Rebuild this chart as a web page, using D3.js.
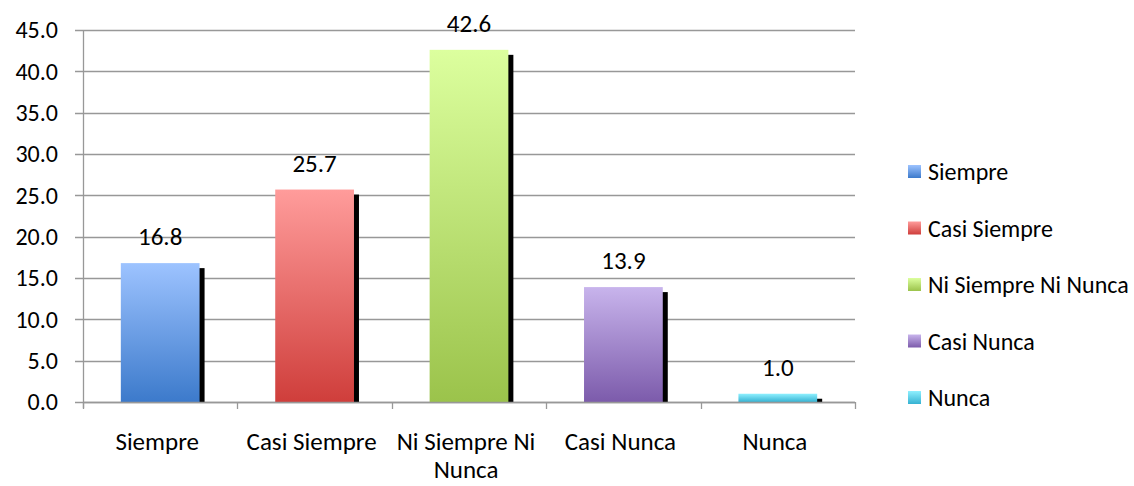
<!DOCTYPE html>
<html>
<head>
<meta charset="utf-8">
<script src="https://cdn.jsdelivr.net/npm/d3@7"></script>
<style>
  body { margin: 0; background: #fff; }
  text { font-family: Calibri, Carlito, Lato, sans-serif; fill: #000; }
</style>
</head>
<body>
<svg id="chart" width="1134" height="486"></svg>
<script>
// Survey answer distribution (%)
const categories = ["Siempre", "Casi Siempre", "Ni Siempre Ni Nunca", "Casi Nunca", "Nunca"];
const values = [16.8, 25.7, 42.6, 13.9, 1.0];
const yTicks = [0, 5, 10, 15, 20, 25, 30, 35, 40, 45];
const colorTop = ["#9dc3ff", "#ff9c9b", "#dcff9e", "#c8b4ec", "#8ff0ff"];
const colorBottom = ["#3c7acb", "#cf3e3b", "#9bc34b", "#7c5bab", "#36b2d2"];

const svg = d3.select("#chart");
const plot = { left: 83, right: 855, top: 30, bottom: 402 };

const y = d3.scaleLinear().domain([0, 45]).range([plot.bottom, plot.top]);
const xCat = d3.scaleBand().domain(categories).range([plot.left, plot.right]).padding(0);
const xBar = d3.scaleBand().domain(categories).range([plot.left, plot.right])
  .paddingInner(0.49).paddingOuter(0.245);
const color = d3.scaleOrdinal().domain(categories).range(colorBottom);

// vertical gradients for bars and legend keys
const defs = svg.append("defs");
categories.forEach((c, i) => {
  const g = defs.append("linearGradient").attr("id", "grad" + i)
    .attr("x1", 0).attr("y1", 0).attr("x2", 0).attr("y2", 1);
  g.append("stop").attr("offset", "0%").attr("stop-color", colorTop[i]);
  g.append("stop").attr("offset", "100%").attr("stop-color", color(c));
});

// horizontal gridlines
svg.append("g").selectAll("line").data(yTicks).join("line")
  .attr("x1", plot.left - 8).attr("x2", plot.right)
  .attr("y1", d => Math.round(y(d)) + 0.5).attr("y2", d => Math.round(y(d)) + 0.5)
  .attr("stroke", "#989898").attr("stroke-width", 1.3);

// y axis
const yAxis = svg.append("g").attr("transform", `translate(${plot.left},0)`)
  .call(d3.axisLeft(y).tickValues(yTicks).tickFormat(d3.format(".1f")).tickSize(8).tickPadding(17));
yAxis.select(".domain").remove();
yAxis.selectAll(".tick line").remove();
yAxis.selectAll("text").style("font-size", "24px");
svg.append("line").attr("x1", plot.left + 0.5).attr("x2", plot.left + 0.5)
  .attr("y1", plot.top).attr("y2", plot.bottom + 6)
  .attr("stroke", "#989898").attr("stroke-width", 1.3);

// shadows behind bars
svg.append("g").selectAll("rect").data(categories).join("rect")
  .attr("x", d => xBar(d) + 5)
  .attr("y", (d, i) => Math.min(y(values[i]) + 5, plot.bottom - 2))
  .attr("width", xBar.bandwidth())
  .attr("height", (d, i) => plot.bottom - Math.min(y(values[i]) + 5, plot.bottom - 2))
  .attr("fill", "#000");

// bars
svg.append("g").selectAll("rect").data(categories).join("rect")
  .attr("x", d => xBar(d))
  .attr("y", (d, i) => y(values[i]))
  .attr("width", xBar.bandwidth())
  .attr("height", (d, i) => plot.bottom - y(values[i]))
  .attr("fill", (d, i) => `url(#grad${i})`);

// value labels
svg.append("g").selectAll("text").data(categories).join("text")
  .attr("x", d => xBar(d) + xBar.bandwidth() / 2)
  .attr("y", (d, i) => y(values[i]) - 18)
  .attr("text-anchor", "middle")
  .style("font-size", "25px")
  .text((d, i) => values[i].toFixed(1));

// x axis line and category separators
svg.append("line").attr("x1", plot.left).attr("x2", plot.right)
  .attr("y1", plot.bottom + 0.5).attr("y2", plot.bottom + 0.5)
  .attr("stroke", "#989898").attr("stroke-width", 1.3);
const seps = categories.map(c => xCat(c)).concat([plot.right]);
svg.append("g").selectAll("line").data(seps).join("line")
  .attr("x1", d => Math.round(d) + 0.5).attr("x2", d => Math.round(d) + 0.5)
  .attr("y1", plot.bottom).attr("y2", plot.bottom + 7)
  .attr("stroke", "#989898").attr("stroke-width", 1.3);

// category labels, wrapped to the band width
const xLabels = svg.append("g").selectAll("text").data(categories).join("text")
  .attr("x", d => xCat(d) + xCat.bandwidth() / 2 - 3)
  .attr("y", 450)
  .attr("text-anchor", "middle")
  .style("font-size", "25px");
xLabels.each(function (d) {
  const t = d3.select(this);
  const words = d.split(" ");
  let line = [];
  let tspan = t.append("tspan").attr("x", t.attr("x")).attr("dy", 0);
  words.forEach(w => {
    line.push(w);
    tspan.text(line.join(" "));
    if (tspan.node().getComputedTextLength() > xCat.bandwidth() && line.length > 1) {
      line.pop();
      tspan.text(line.join(" "));
      line = [w];
      tspan = t.append("tspan").attr("x", t.attr("x")).attr("dy", 28).text(w);
    }
  });
});

// legend
const legend = svg.append("g").selectAll("g").data(categories).join("g")
  .attr("transform", (d, i) => `translate(908,${172 + i * 56.5})`);
legend.append("rect").attr("x", 0).attr("y", -7).attr("width", 13).attr("height", 13)
  .attr("fill", (d, i) => `url(#grad${i})`);
legend.append("text").attr("x", 20).attr("y", 0).attr("dy", "0.35em")
  .style("font-size", "24px")
  .text(d => d);
</script>
</body>
</html>
